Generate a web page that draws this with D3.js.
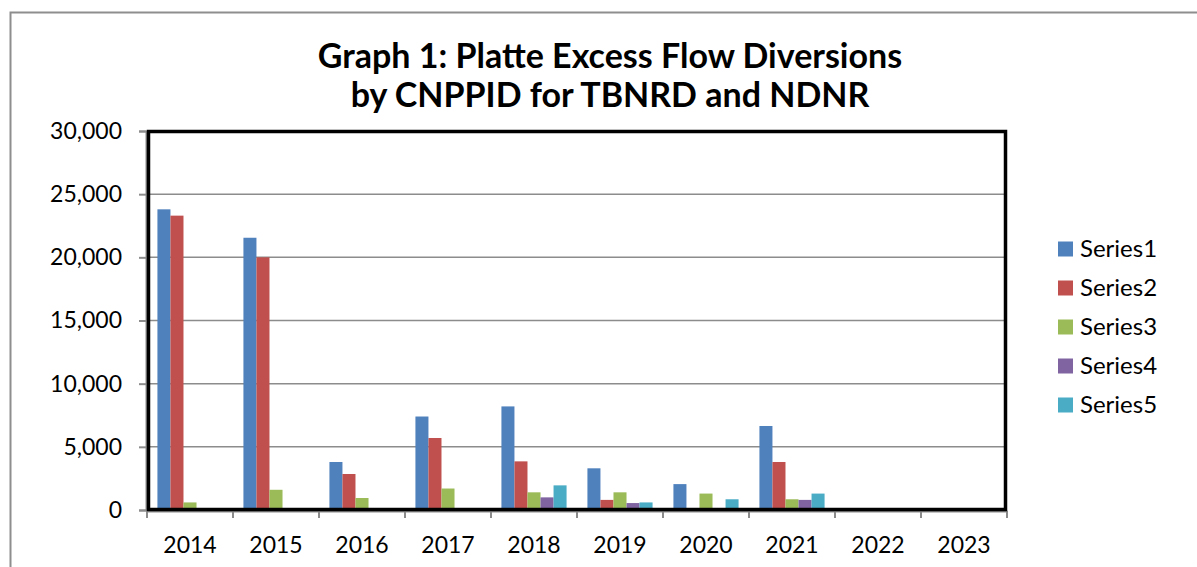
<!DOCTYPE html>
<html lang="en">
<head>
    <meta charset="UTF-8">
    <script src="https://d3js.org/d3.v7.min.js"></script>
    <title>Graph 1: Platte Excess Flow Diversions</title>
    <style>
      body { margin: 0; background: #fff; }
      text { font-family: Lato, "Open Sans", sans-serif; fill: #000; }
    </style>
</head>
<body>
  <div id="my_dataviz"></div>
</body>
<script>

// chart data
var years = ["2014", "2015", "2016", "2017", "2018", "2019", "2020", "2021", "2022", "2023"];
var seriesNames = ["Series1", "Series2", "Series3", "Series4", "Series5"];
var series1 = [23800, 21550, 3800, 7400, 8200, 3300, 2050, 6650, 0, 0];
var series2 = [23300, 20000, 2850, 5700, 3850, 800, 0, 3800, 0, 0];
var series3 = [600, 1600, 950, 1700, 1400, 1400, 1300, 850, 0, 0];
var series4 = [0, 0, 0, 0, 1000, 550, 0, 800, 0, 0];
var series5 = [0, 0, 0, 0, 1950, 600, 850, 1300, 0, 0];
var yTicks = [0, 5000, 10000, 15000, 20000, 25000, 30000];
var colors = ["#4F81BD", "#C0504D", "#9BBB59", "#8064A2", "#4BACC6"];

var allSeries = [series1, series2, series3, series4, series5];

var W = 1197, H = 567;
var plotLeft = 147, plotRight = 1007, plotTop = 131, plotBottom = 510;

var svg = d3.select("#my_dataviz")
  .append("svg")
  .attr("width", W)
  .attr("height", H);

// outer chart border
svg.append("rect")
  .attr("x", 10.5).attr("y", 12.5)
  .attr("width", W + 20).attr("height", H + 20)
  .attr("fill", "none")
  .attr("stroke", "#8e8e8e")
  .attr("stroke-width", 2);

// scales
var x = d3.scaleBand()
  .domain(years)
  .range([plotLeft, plotRight]);

var x1 = d3.scaleBand()
  .domain(seriesNames)
  .range([0, x.bandwidth()])
  .paddingInner(0)
  .paddingOuter(0.8);

var y = d3.scaleLinear()
  .domain([0, 30000])
  .range([plotBottom, plotTop]);

// gridlines
svg.append("g")
  .selectAll("line")
  .data(yTicks.slice(1))
  .enter()
  .append("line")
  .attr("x1", plotLeft).attr("x2", plotRight)
  .attr("y1", d => y(d)).attr("y2", d => y(d))
  .attr("stroke", "#8c8c8c")
  .attr("stroke-width", 1.5);

// bars
var groups = svg.append("g")
  .selectAll("g")
  .data(allSeries)
  .enter()
  .append("g")
  .attr("fill", (d, i) => colors[i]);

groups.selectAll("rect")
  .data((d, i) => d.map((v, j) => ({year: years[j], name: seriesNames[i], value: v})))
  .enter()
  .append("rect")
  .attr("x", d => x(d.year) + x1(d.name))
  .attr("y", d => y(d.value))
  .attr("width", x1.bandwidth())
  .attr("height", d => y(0) - y(d.value));

// Y axis
var yAxis = svg.append("g")
  .attr("transform", "translate(" + (plotLeft - 1) + ",0)")
  .call(d3.axisLeft(y).tickValues(yTicks).tickFormat(d3.format(",")).tickSize(7).tickPadding(17));

// X axis (ticks sit between categories)
var xAxis = svg.append("g")
  .attr("transform", "translate(0," + (plotBottom + 1) + ")")
  .call(d3.axisBottom(x).tickSize(0).tickPadding(26));

svg.append("g")
  .selectAll("line")
  .data(years.concat(["end"]))
  .enter()
  .append("line")
  .attr("x1", (d, i) => i < years.length ? x(d) : plotRight)
  .attr("x2", (d, i) => i < years.length ? x(d) : plotRight)
  .attr("y1", plotBottom + 1).attr("y2", plotBottom + 8)
  .attr("stroke", "#8c8c8c")
  .attr("stroke-width", 2);

[yAxis, xAxis].forEach(function(a) {
  a.select(".domain").attr("stroke", "#8c8c8c").attr("stroke-width", 2);
  a.selectAll(".tick line").attr("stroke", "#8c8c8c").attr("stroke-width", 2);
  a.selectAll("text")
    .style("font-size", "23px")
    .attr("fill", "#000");
});

// plot area frame
svg.append("rect")
  .attr("x", plotLeft + 1.5).attr("y", plotTop + 0.5)
  .attr("width", plotRight - plotLeft - 3).attr("height", plotBottom - plotTop - 1)
  .attr("fill", "none")
  .attr("stroke", "#000")
  .attr("stroke-width", 3.5);

// title
var title = svg.append("text")
  .attr("text-anchor", "middle")
  .style("font-size", "34px")
  .style("font-weight", "bold");
title.append("tspan").attr("x", 610).attr("y", 68).text("Graph 1: Platte Excess Flow Diversions");
title.append("tspan").attr("x", 610).attr("y", 107).text("by CNPPID for TBNRD and NDNR");

// legend
var legend = svg.append("g")
  .selectAll("g")
  .data(seriesNames)
  .enter()
  .append("g")
  .attr("transform", (d, i) => "translate(1058," + (249 + i * 39) + ")");

legend.append("rect")
  .attr("x", 0).attr("y", -7.5)
  .attr("width", 15).attr("height", 15)
  .attr("fill", (d, i) => colors[i]);

legend.append("text")
  .attr("x", 22).attr("y", 0)
  .attr("dy", "0.35em")
  .style("font-size", "24px")
  .text(d => d);

</script>
</html>
